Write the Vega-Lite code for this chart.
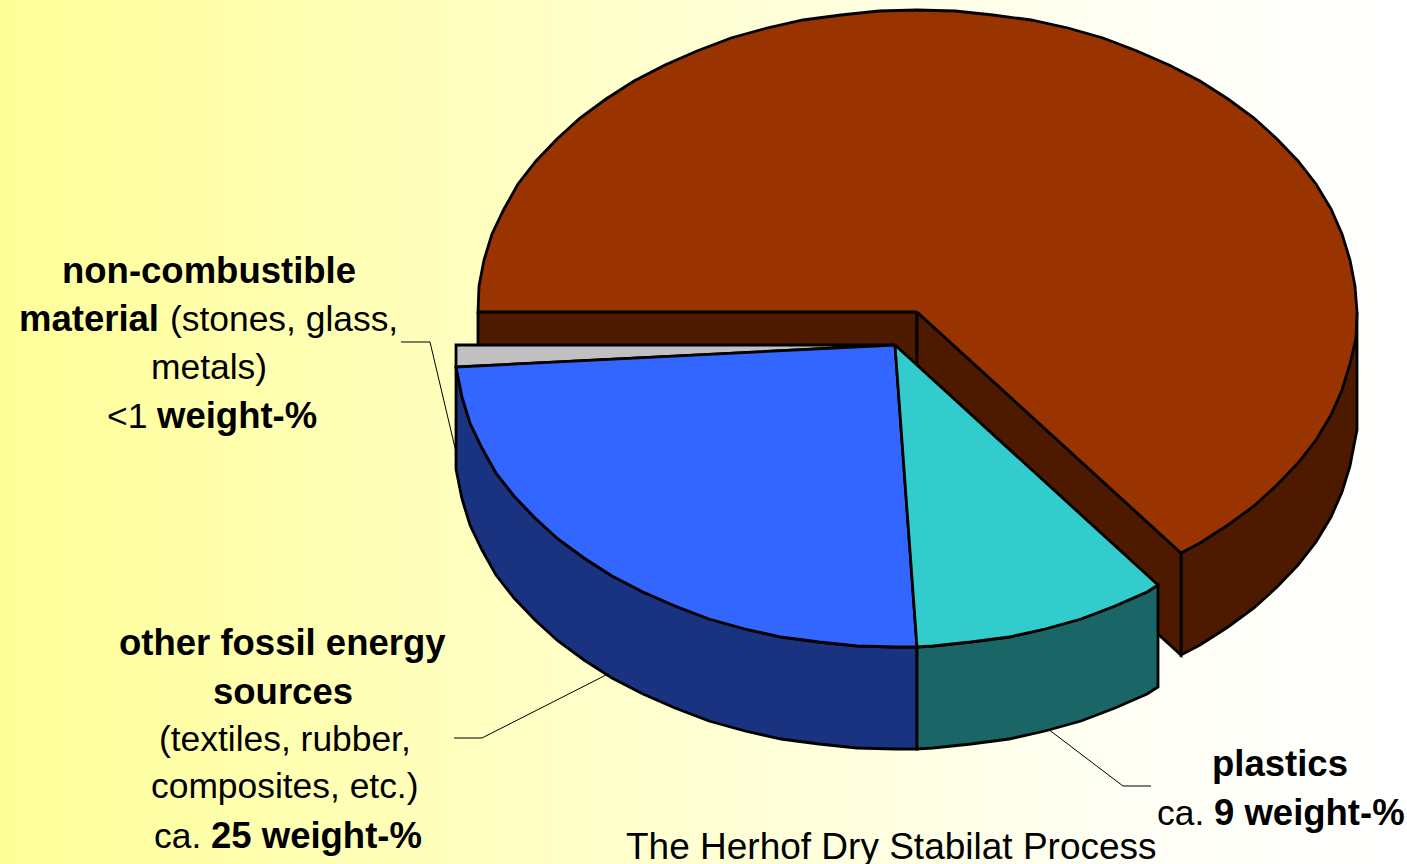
{"$schema":"https://vega.github.io/schema/vega-lite/v6.json","width":1407,"height":864,"autosize":"none","padding":0,"background":"white",
"config":{"view":{"stroke":null}},
"datasets":{
"bg":[{"x":0,"x2":1407,"y":0,"y2":864}],
"shapes":[
{"s":"a_wall_outer","i":1,"x":1357,"y":312},{"s":"a_wall_outer","i":2,"x":1357,"y":430},{"s":"a_wall_outer","i":3,"x":1355,"y":440},{"s":"a_wall_outer","i":4,"x":1350,"y":466},{"s":"a_wall_outer","i":5,"x":1342,"y":492},{"s":"a_wall_outer","i":6,"x":1331,"y":517},{"s":"a_wall_outer","i":7,"x":1316,"y":542},{"s":"a_wall_outer","i":8,"x":1298,"y":565},{"s":"a_wall_outer","i":9,"x":1277,"y":587},{"s":"a_wall_outer","i":10,"x":1254,"y":608},{"s":"a_wall_outer","i":11,"x":1228,"y":627},{"s":"a_wall_outer","i":12,"x":1200,"y":645},{"s":"a_wall_outer","i":13,"x":1181,"y":655},{"s":"a_wall_outer","i":14,"x":1181,"y":553},{"s":"a_wall_outer","i":15,"x":1357,"y":312},
{"s":"b_wall_left","i":1,"x":478,"y":312},{"s":"b_wall_left","i":2,"x":917,"y":312},{"s":"b_wall_left","i":3,"x":917,"y":370},{"s":"b_wall_left","i":4,"x":478,"y":370},{"s":"b_wall_left","i":5,"x":478,"y":312},
{"s":"c_wall_inner","i":1,"x":917,"y":312},{"s":"c_wall_inner","i":2,"x":1181,"y":553},{"s":"c_wall_inner","i":3,"x":1181,"y":655},{"s":"c_wall_inner","i":4,"x":917,"y":414},{"s":"c_wall_inner","i":5,"x":917,"y":312},
{"s":"d_top","i":1,"x":917,"y":312},{"s":"d_top","i":2,"x":478,"y":312},{"s":"d_top","i":3,"x":479,"y":286},{"s":"d_top","i":4,"x":484,"y":260},{"s":"d_top","i":5,"x":492,"y":234},{"s":"d_top","i":6,"x":504,"y":209},{"s":"d_top","i":7,"x":518,"y":184},{"s":"d_top","i":8,"x":536,"y":161},{"s":"d_top","i":9,"x":557,"y":139},{"s":"d_top","i":10,"x":580,"y":118},{"s":"d_top","i":11,"x":606,"y":99},{"s":"d_top","i":12,"x":634,"y":81},{"s":"d_top","i":13,"x":665,"y":65},{"s":"d_top","i":14,"x":697,"y":51},{"s":"d_top","i":15,"x":731,"y":38},{"s":"d_top","i":16,"x":767,"y":28},{"s":"d_top","i":17,"x":803,"y":20},{"s":"d_top","i":18,"x":841,"y":15},{"s":"d_top","i":19,"x":879,"y":11},{"s":"d_top","i":20,"x":917,"y":10},{"s":"d_top","i":21,"x":955,"y":11},{"s":"d_top","i":22,"x":993,"y":15},{"s":"d_top","i":23,"x":1031,"y":20},{"s":"d_top","i":24,"x":1068,"y":28},{"s":"d_top","i":25,"x":1103,"y":38},{"s":"d_top","i":26,"x":1137,"y":51},{"s":"d_top","i":27,"x":1169,"y":65},{"s":"d_top","i":28,"x":1200,"y":81},{"s":"d_top","i":29,"x":1228,"y":99},{"s":"d_top","i":30,"x":1254,"y":118},{"s":"d_top","i":31,"x":1277,"y":139},{"s":"d_top","i":32,"x":1298,"y":161},{"s":"d_top","i":33,"x":1316,"y":184},{"s":"d_top","i":34,"x":1331,"y":209},{"s":"d_top","i":35,"x":1342,"y":234},{"s":"d_top","i":36,"x":1350,"y":260},{"s":"d_top","i":37,"x":1355,"y":286},{"s":"d_top","i":38,"x":1357,"y":312},{"s":"d_top","i":39,"x":1356,"y":338},{"s":"d_top","i":40,"x":1350,"y":364},{"s":"d_top","i":41,"x":1342,"y":390},{"s":"d_top","i":42,"x":1331,"y":415},{"s":"d_top","i":43,"x":1316,"y":440},{"s":"d_top","i":44,"x":1298,"y":463},{"s":"d_top","i":45,"x":1277,"y":485},{"s":"d_top","i":46,"x":1254,"y":506},{"s":"d_top","i":47,"x":1228,"y":525},{"s":"d_top","i":48,"x":1200,"y":543},{"s":"d_top","i":49,"x":1181,"y":553},{"s":"d_top","i":50,"x":917,"y":312},
{"s":"e_wall_blue","i":1,"x":456,"y":367},{"s":"e_wall_blue","i":2,"x":462,"y":397},{"s":"e_wall_blue","i":3,"x":470,"y":423},{"s":"e_wall_blue","i":4,"x":482,"y":448},{"s":"e_wall_blue","i":5,"x":496,"y":473},{"s":"e_wall_blue","i":6,"x":514,"y":496},{"s":"e_wall_blue","i":7,"x":535,"y":518},{"s":"e_wall_blue","i":8,"x":558,"y":539},{"s":"e_wall_blue","i":9,"x":584,"y":558},{"s":"e_wall_blue","i":10,"x":612,"y":576},{"s":"e_wall_blue","i":11,"x":643,"y":592},{"s":"e_wall_blue","i":12,"x":675,"y":606},{"s":"e_wall_blue","i":13,"x":709,"y":619},{"s":"e_wall_blue","i":14,"x":745,"y":629},{"s":"e_wall_blue","i":15,"x":781,"y":637},{"s":"e_wall_blue","i":16,"x":819,"y":642},{"s":"e_wall_blue","i":17,"x":857,"y":646},{"s":"e_wall_blue","i":18,"x":895,"y":647},{"s":"e_wall_blue","i":19,"x":917,"y":647},{"s":"e_wall_blue","i":20,"x":917,"y":749},{"s":"e_wall_blue","i":21,"x":895,"y":749},{"s":"e_wall_blue","i":22,"x":857,"y":748},{"s":"e_wall_blue","i":23,"x":819,"y":744},{"s":"e_wall_blue","i":24,"x":781,"y":739},{"s":"e_wall_blue","i":25,"x":745,"y":731},{"s":"e_wall_blue","i":26,"x":709,"y":721},{"s":"e_wall_blue","i":27,"x":675,"y":708},{"s":"e_wall_blue","i":28,"x":643,"y":694},{"s":"e_wall_blue","i":29,"x":612,"y":678},{"s":"e_wall_blue","i":30,"x":584,"y":660},{"s":"e_wall_blue","i":31,"x":558,"y":641},{"s":"e_wall_blue","i":32,"x":535,"y":620},{"s":"e_wall_blue","i":33,"x":514,"y":598},{"s":"e_wall_blue","i":34,"x":496,"y":575},{"s":"e_wall_blue","i":35,"x":482,"y":550},{"s":"e_wall_blue","i":36,"x":470,"y":525},{"s":"e_wall_blue","i":37,"x":462,"y":499},{"s":"e_wall_blue","i":38,"x":456,"y":469},{"s":"e_wall_blue","i":39,"x":456,"y":367},
{"s":"f_wall_teal","i":1,"x":917,"y":647},{"s":"f_wall_teal","i":2,"x":933,"y":646},{"s":"f_wall_teal","i":3,"x":971,"y":642},{"s":"f_wall_teal","i":4,"x":1009,"y":637},{"s":"f_wall_teal","i":5,"x":1045,"y":629},{"s":"f_wall_teal","i":6,"x":1081,"y":619},{"s":"f_wall_teal","i":7,"x":1115,"y":606},{"s":"f_wall_teal","i":8,"x":1147,"y":592},{"s":"f_wall_teal","i":9,"x":1158,"y":585},{"s":"f_wall_teal","i":10,"x":1158,"y":687},{"s":"f_wall_teal","i":11,"x":1147,"y":694},{"s":"f_wall_teal","i":12,"x":1115,"y":708},{"s":"f_wall_teal","i":13,"x":1081,"y":721},{"s":"f_wall_teal","i":14,"x":1045,"y":731},{"s":"f_wall_teal","i":15,"x":1009,"y":739},{"s":"f_wall_teal","i":16,"x":971,"y":744},{"s":"f_wall_teal","i":17,"x":933,"y":748},{"s":"f_wall_teal","i":18,"x":917,"y":749},{"s":"f_wall_teal","i":19,"x":917,"y":647},
{"s":"g_gray","i":1,"x":895,"y":345},{"s":"g_gray","i":2,"x":456,"y":345},{"s":"g_gray","i":3,"x":456,"y":367},{"s":"g_gray","i":4,"x":895,"y":345},
{"s":"h_blue","i":1,"x":895,"y":345},{"s":"h_blue","i":2,"x":456,"y":367},{"s":"h_blue","i":3,"x":462,"y":397},{"s":"h_blue","i":4,"x":470,"y":423},{"s":"h_blue","i":5,"x":482,"y":448},{"s":"h_blue","i":6,"x":496,"y":473},{"s":"h_blue","i":7,"x":514,"y":496},{"s":"h_blue","i":8,"x":535,"y":518},{"s":"h_blue","i":9,"x":558,"y":539},{"s":"h_blue","i":10,"x":584,"y":558},{"s":"h_blue","i":11,"x":612,"y":576},{"s":"h_blue","i":12,"x":643,"y":592},{"s":"h_blue","i":13,"x":675,"y":606},{"s":"h_blue","i":14,"x":709,"y":619},{"s":"h_blue","i":15,"x":745,"y":629},{"s":"h_blue","i":16,"x":781,"y":637},{"s":"h_blue","i":17,"x":819,"y":642},{"s":"h_blue","i":18,"x":857,"y":646},{"s":"h_blue","i":19,"x":895,"y":647},{"s":"h_blue","i":20,"x":917,"y":647},{"s":"h_blue","i":21,"x":895,"y":345},
{"s":"i_teal","i":1,"x":895,"y":345},{"s":"i_teal","i":2,"x":917,"y":647},{"s":"i_teal","i":3,"x":933,"y":646},{"s":"i_teal","i":4,"x":971,"y":642},{"s":"i_teal","i":5,"x":1009,"y":637},{"s":"i_teal","i":6,"x":1045,"y":629},{"s":"i_teal","i":7,"x":1081,"y":619},{"s":"i_teal","i":8,"x":1115,"y":606},{"s":"i_teal","i":9,"x":1147,"y":592},{"s":"i_teal","i":10,"x":1158,"y":585},{"s":"i_teal","i":11,"x":895,"y":345}
],
"leaders":[
{"s":"non-combustible","i":1,"x":401,"y":342},{"s":"non-combustible","i":2,"x":430,"y":342},{"s":"non-combustible","i":3,"x":456,"y":452},
{"s":"fossil","i":1,"x":454,"y":738},{"s":"fossil","i":2,"x":482,"y":738},{"s":"fossil","i":3,"x":608,"y":674},
{"s":"plastics","i":1,"x":1048,"y":729},{"s":"plastics","i":2,"x":1123,"y":786},{"s":"plastics","i":3,"x":1151,"y":786}
],
"bold":[
{"t":"non-combustible","x":62,"y":283},{"t":"material","x":19,"y":331},{"t":"weight-%","x":157,"y":428},{"t":"other fossil energy","x":119,"y":655},{"t":"sources","x":213,"y":704},{"t":"25 weight-%","x":211,"y":848},{"t":"plastics","x":1212,"y":776},{"t":"9 weight-%","x":1214,"y":825}
],
"regular":[
{"t":"(stones, glass,","x":170,"y":331},{"t":"metals)","x":151,"y":379},{"t":"<1","x":107,"y":428},{"t":"(textiles, rubber,","x":159,"y":751},{"t":"composites, etc.)","x":151,"y":798},{"t":"ca.","x":154,"y":848},{"t":"ca.","x":1157,"y":825}
],
"title":[{"t":"The Herhof Dry Stabilat Process","x":626,"y":859}]
},
"encoding":{"x":{"field":"x","type":"quantitative","scale":{"domain":[0,1407],"nice":false,"zero":false},"axis":null},"y":{"field":"y","type":"quantitative","scale":{"domain":[0,864],"reverse":true,"nice":false,"zero":false},"axis":null}},
"layer":[
{"data":{"name":"bg"},"mark":{"type":"rect","fill":{"gradient":"linear","x1":0,"y1":0,"x2":1,"y2":0,"stops":[{"offset":0,"color":"#FFFF99"},{"offset":0.8,"color":"#FFFFF5"},{"offset":1,"color":"#FFFFFF"}]}},
"encoding":{"x2":{"field":"x2"},"y2":{"field":"y2"}}},
{"data":{"name":"shapes"},"mark":{"type":"line","stroke":"#000000","strokeWidth":2.8,"strokeJoin":"miter","clip":true},
"encoding":{"order":{"field":"i"},"fill":{"field":"s","type":"nominal","legend":null,"scale":{"domain":["a_wall_outer","b_wall_left","c_wall_inner","d_top","e_wall_blue","f_wall_teal","g_gray","h_blue","i_teal"],"range":["#4D1A00","#4D1A00","#4D1A00","#993300","#1A3380","#1A6666","#C0C0C0","#3366FF","#33CCCC"]}}}},
{"data":{"name":"leaders"},"mark":{"type":"line","stroke":"#000000","strokeWidth":1},
"encoding":{"order":{"field":"i"},"detail":{"field":"s"}}},
{"data":{"name":"bold"},"mark":{"type":"text","align":"left","baseline":"alphabetic","font":"Liberation Sans","fontSize":36.5,"fontWeight":"bold","color":"#000000"},
"encoding":{"text":{"field":"t"}}},
{"data":{"name":"regular"},"mark":{"type":"text","align":"left","baseline":"alphabetic","font":"Liberation Sans","fontSize":35.4,"color":"#000000"},
"encoding":{"text":{"field":"t"}}},
{"data":{"name":"title"},"mark":{"type":"text","align":"left","baseline":"alphabetic","font":"Liberation Sans","fontSize":37,"color":"#000000"},
"encoding":{"text":{"field":"t"}}}
]}
